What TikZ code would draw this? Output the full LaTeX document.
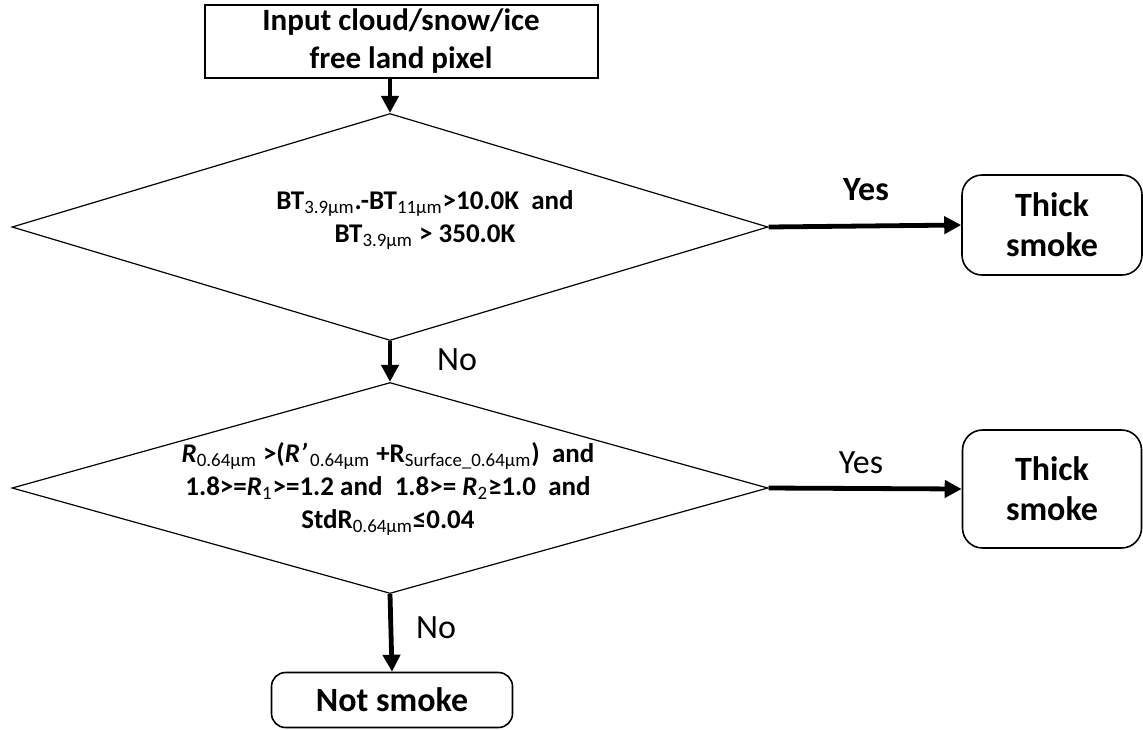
\documentclass[tikz,border=0pt]{standalone}
\usepackage{fontspec}
\setmainfont{Carlito}
\usetikzlibrary{shapes.geometric,arrows.meta}

\newcommand{\sub}[1]{\textsubscript{\mdseries #1}}

\begin{document}
\begin{tikzpicture}[x=0.5pt, y=-0.5pt, >={Triangle[length=8.5pt,width=8.5pt]},
		startbox/.style={draw, line width=1pt, inner sep=0pt, minimum width=196.5pt, minimum height=36.5pt, align=center, font=\fontsize{15.5}{19}\selectfont\bfseries},
		decision/.style={draw, diamond, line width=0.6pt, inner sep=0pt, minimum width=378pt},
		condtext/.style={align=center, inner sep=0pt, font=\fontsize{13.5}{16.5}\selectfont\bfseries},
		endbox/.style={draw, rounded corners=10pt, line width=0.8pt, inner sep=0pt, align=center, font=\fontsize{17}{20}\selectfont\bfseries},
		answer/.style={font=\fontsize{17}{20}\selectfont},
		flow/.style={->, line width=2.4pt}]
				\useasboundingbox (0,0) rectangle (1143,729);
				\node[startbox] (input) at (401,41) {Input cloud/snow/ice\\free land pixel};
				\node[decision, minimum height=113.5pt] (test1) at (390,227) {};
				\node[condtext] (cond1) at (425,220) {BT\sub{3.9µm}.-BT\sub{11µm}>10.0K~ and\\BT\sub{3.9µm} > 350.0K};
				\node[endbox, minimum width=90pt, minimum height=50pt] (thick1) at (1052,225) {Thick\\smoke};
				\node[decision, minimum height=105.5pt] (test2) at (390,488) {};
				\node[condtext] (cond2) at (388,489) {\textit{R}\sub{0.64µm} >(\textit{R’}\sub{\,0.64µm} +R\sub{Surface\_0.64µm})~ and\\
					1.8>=\textit{R}\sub{1}>=1.2 and~ 1.8>= \textit{R}\sub{2}≥1.0~ and\\
					StdR\sub{0.64µm}≤0.04};
				\node[endbox, minimum width=89.5pt, minimum height=59pt] (thick2) at (1052,489) {Thick\\smoke};
				\node[endbox, minimum width=120.5pt, minimum height=27.5pt, rounded corners=7pt] (notsmoke) at (392,700) {Not smoke};
				% connectors
				\draw[flow] (input.south -| test1.north) -- (test1.north);
				\draw[flow] (test1.east) -- (thick1.west);
				\draw[flow] (test1.south) -- (test2.north);
				\draw[flow] (test2.east) -- (thick2.west);
				\draw[flow] (test2.south) -- (notsmoke.north);
				\node[answer, font=\fontsize{17}{20}\selectfont\bfseries] (yes1) at (866,190) {Yes};
				\node[answer] (no1) at (457,360) {No};
				\node[answer] (yes2) at (861,463) {Yes};
				\node[answer] (no2) at (436,628) {No};
\end{tikzpicture}
\end{document}
